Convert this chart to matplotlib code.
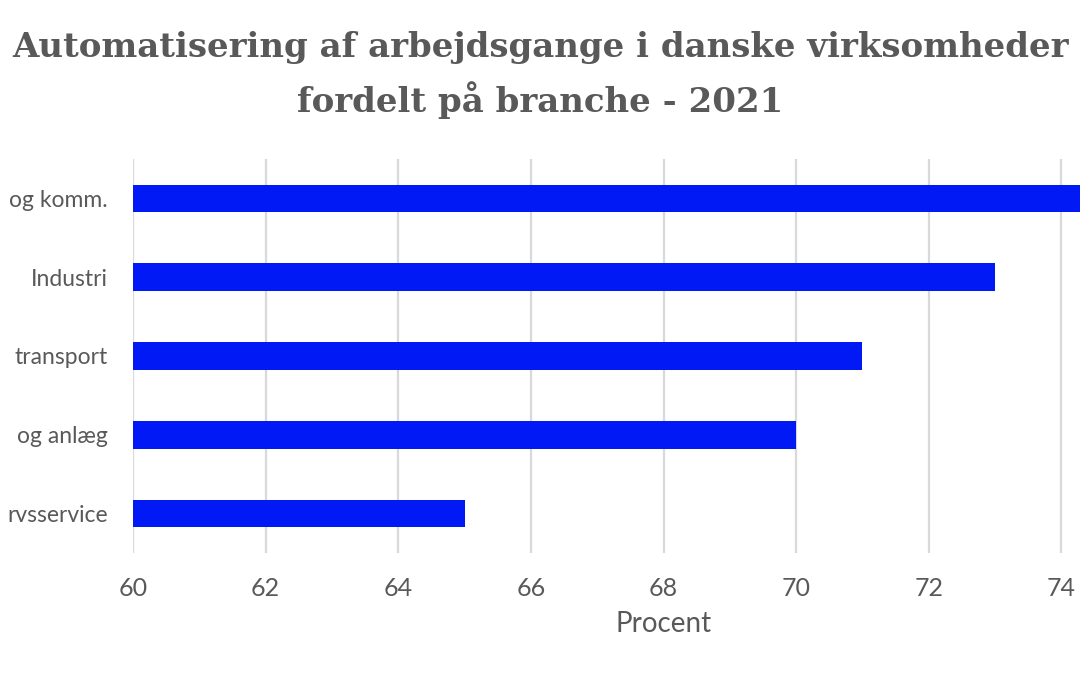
import matplotlib.pyplot as plt
import numpy as np


# data, top to bottom (labels as far as they show in the cropped picture)
brancher = ['og komm.', 'Industri', 'transport', 'og anlæg', 'rvsservice']
procent = [75, 73, 71, 70, 65]
x_ticks = [60, 62, 64, 66, 68, 70, 72, 74]

GRAA = '#595959'
BLAA = '#0019f5'

plt.rcParams['font.family'] = ['Lato', 'DejaVu Sans']

fig = plt.figure(figsize=(10.8, 6.75), dpi=100)
fig.patch.set_facecolor('#ffffff')

# axes goes past the right edge of the figure (the picture is cropped)
ax = fig.add_axes([133 / 1080, 122 / 675, 1061 / 1080, 394 / 675])

y = np.arange(len(brancher))
ax.barh(y, [p - 60 for p in procent], left=60, height=0.35, color=BLAA,
        zorder=3)

ax.set_ylim(len(brancher) - 0.5, -0.5)
ax.set_xlim(60, 76)
ax.set_yticks(y)
ax.set_yticklabels(brancher)
ax.set_xticks(x_ticks)
ax.set_xticks([76], minor=True)

for s in ax.spines.values():
    s.set_visible(False)

ax.grid(axis='x', which='both', color='#d9d9d9', linewidth=1.6, zorder=0)
ax.tick_params(axis='both', which='both', length=0, labelsize=18,
               labelcolor=GRAA)
ax.tick_params(axis='y', labelsize=16.5, pad=18)
ax.tick_params(axis='x', pad=17)

ax.set_xlabel('Procent', fontsize=20, color=GRAA, labelpad=8)

fig.text(0.5, 0.93, 'Automatisering af arbejdsgange i danske virksomheder',
         ha='center', va='center', fontsize=24.5, fontweight='bold',
         family='DejaVu Serif', color=GRAA)
fig.text(0.5, 0.852, 'fordelt på branche - 2021',
         ha='center', va='center', fontsize=24.5, fontweight='bold',
         family='DejaVu Serif', color=GRAA)

fig.savefig('out.png', dpi=100)
